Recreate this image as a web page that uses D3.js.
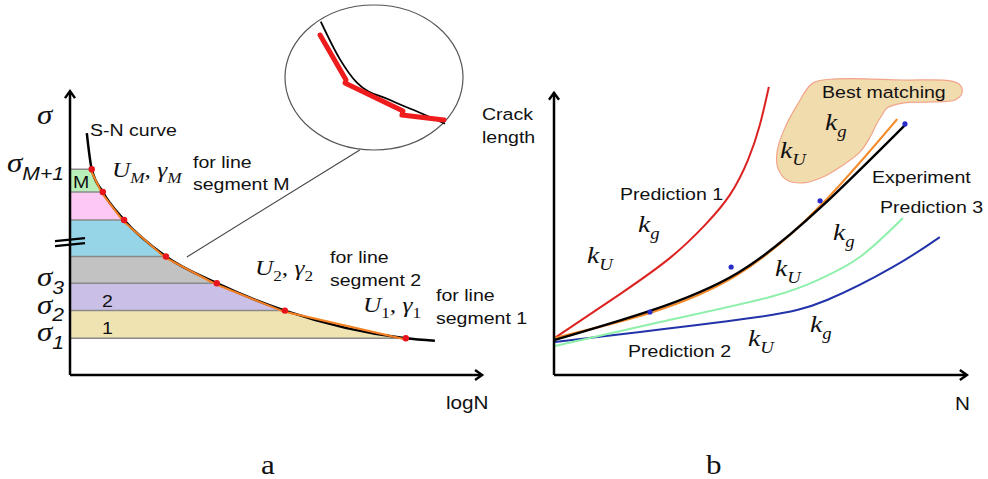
<!DOCTYPE html>
<meta charset="utf-8">
<style>
  body { margin: 0; background: #fff; }
  svg { display: block; }
  .lbl { font-family: "Liberation Sans", Arial, sans-serif; fill: #111; }
  .math { font-family: "Liberation Serif", "Times New Roman", serif; font-style: italic; fill: #111; }
  .cap { font-family: "Liberation Serif", "Times New Roman", serif; fill: #111; }
</style>
<body>
<script src="https://d3js.org/d3.v7.min.js"></script>
<script>
// ---------- panel a : S-N curve (plot units 0..100 on both axes)
var snCurve   = [[4.1,84.9],[5.3,72.2],[8.0,64.2],[13.2,54.4],[23.4,41.6],[35.8,32.2],[52.4,22.6],[81.9,12.9],[89.0,12.0]];
// ends of the line segments (red dots), top first
var segPoints = [[5.3,72.2],[8.0,64.2],[13.2,54.4],[23.4,41.6],[35.8,32.2],[52.4,22.6],[81.9,12.9]];
var bandColors = ["#b9f0b9","#fbc9f3","#96d5e7","#c2c2c2","#cac0e7","#f0e3b2"];
var bandNames  = ["M","","","","2","1"];
var sigmaSubs  = ["M+1","3","2","1"];
var sigmaIdx   = [0,4,5,6];

// magnifier inset (inset units 0..100)
var insetCurve = [[20.1,88.5],[30.9,62.5],[40.4,46.4],[59,34.5],[77.5,24.8],[89.9,18.1]];
var insetPoly  = [[19.7,79.3],[34.3,48.3],[33.7,46.2],[66.3,26.9],[65.7,24.1],[89.3,20.7]];

// ---------- panel b : crack length vs N (plot units 0..100)
var predRed    = [[0.2,13.0],[16.1,28.4],[28.3,41.1],[36.8,52.6],[42.9,63.2],[47.3,75.4],[50.2,87.7],[52.4,101.1]];
var experiment = [[0.2,12.3],[23.4,22.5],[44.9,35.9],[64.9,58.6],[85.6,87.7]];
var bestFit    = [[0.2,13.0],[23.4,21.8],[44.9,35.3],[64.9,59.3],[83.7,89.8]];
var predGreen  = [[0.2,10.2],[25.9,18.6],[52.7,27.4],[64.9,33.7],[74.6,41.4],[85.1,55.1]];
var predBlue   = [[0.2,11.6],[21.0,15.1],[50.2,20.4],[66.6,26.3],[82.7,37.9],[94.1,48.4]];
var expDots    = [[23.4,22.1],[43.2,37.9],[64.9,61.1],[85.6,88.1]];
var blob = [[63.2,102.5],[69.0,103.9],[85.1,103.5],[96.6,103.2],[99.0,101.8],[99.5,98.9],[97.8,96.5],
            [91.7,95.8],[85.1,95.4],[81.2,93.7],[80.0,91.2],[78.8,88.4],[77.1,83.5],[74.6,78.2],
            [70.5,73.7],[65.6,69.5],[60.7,67.4],[56.8,68.4],[54.6,72.6],[54.4,78.2],[55.9,85.3],[59.3,94.7]];

var width = 988, height = 479;
var SX = 1.15; // the figure is slightly stretched horizontally

var svg = d3.select("body").append("svg")
    .attr("width", width).attr("height", height);

// text helper: parts are [string, isSub, extraClass]
function label(g, x, y, cls, size, parts) {
  var t = g.append("text").attr("class", cls)
      .attr("transform", "translate(" + x + "," + y + ") scale(" + SX + ",1)")
      .style("font-size", size + "px");
  var shifted = false;
  parts.forEach(function(p) {
    var s = t.append("tspan").text(p[0]);
    if (p[1] && !shifted) { s.attr("dy", size * 0.28); shifted = true; }
    else if (!p[1] && shifted) { s.attr("dy", -size * 0.28); shifted = false; }
    if (p[1]) s.style("font-size", (size * 0.68) + "px");
    if (p[2] === "sans") s.style("font-family", "'Liberation Sans', Arial, sans-serif");
    if (p[2] === "up") s.style("font-style", "normal");
  });
  return t;
}

function arrowAxes(parent, x0, y0, yTop, xEnd) {
  var g = parent.append("g").attr("class", "axes");
  var ln = d3.line();
  g.append("path").attr("d", ln([[x0, y0], [x0, yTop]]));
  g.append("path").attr("d", ln([[x0, y0], [xEnd, y0]]));
  g.append("path").attr("d", ln([[x0 - 5, yTop + 7], [x0, yTop], [x0 + 5, yTop + 7]]));
  g.append("path").attr("d", ln([[xEnd - 7, y0 - 5], [xEnd, y0], [xEnd - 7, y0 + 5]]));
  g.selectAll("path").attr("fill", "none").attr("stroke", "#000")
    .attr("stroke-width", 2.5).attr("stroke-linejoin", "miter");
}

// ================= panel a =================
var ax = d3.scaleLinear().domain([0, 100]).range([70, 480]);
var ay = d3.scaleLinear().domain([0, 100]).range([375, 90]);
var ga = svg.append("g");

// coloured bands between segment ends
var bands = d3.range(segPoints.length - 1).map(function(i) {
  return [[0, segPoints[i][1]], segPoints[i], segPoints[i + 1], [0, segPoints[i + 1][1]]];
});
ga.selectAll(".band").data(bands).enter().append("path")
    .attr("class", "band")
    .attr("d", function(d) { return d3.line().x(function(p) { return ax(p[0]); }).y(function(p) { return ay(p[1]); })(d) + "Z"; })
    .attr("fill", function(d, i) { return bandColors[i]; });

ga.selectAll(".hline").data(segPoints).enter().append("line")
    .attr("x1", ax(0)).attr("x2", function(d) { return ax(d[0]); })
    .attr("y1", function(d) { return ay(d[1]); }).attr("y2", function(d) { return ay(d[1]); })
    .attr("stroke", "#8a8a8a").attr("stroke-width", 1.5);

bands.forEach(function(d, i) {
  if (!bandNames[i]) return;
  var bx = i === 0 ? ax(0) + 3 : ax(0) + 32;
  label(ga, bx, ay(d[3][1]) - 4, "lbl", 17, [[bandNames[i]]]);
});

// S-N curve and its piecewise approximation
var lineA = d3.line().x(function(d) { return ax(d[0]); }).y(function(d) { return ay(d[1]); });
ga.append("path").attr("d", lineA.curve(d3.curveMonotoneX)(snCurve))
    .attr("fill", "none").attr("stroke", "#000").attr("stroke-width", 2.5);
ga.append("path").attr("d", lineA.curve(d3.curveLinear)(segPoints))
    .attr("transform", "translate(-1,1)")
    .attr("fill", "none").attr("stroke", "#f57f22").attr("stroke-width", 2);
ga.selectAll(".dot").data(segPoints).enter().append("circle")
    .attr("cx", function(d) { return ax(d[0]); }).attr("cy", function(d) { return ay(d[1]); })
    .attr("r", 3.2).attr("fill", "#e8141c");

arrowAxes(ga, ax(0), ay(0), ay(99.6), ax(100.5));

// axis break mark
var yb = ay(47.5);
[0, 5].forEach(function(o) {
  ga.append("line").attr("x1", ax(0) - 15).attr("y1", yb + o + 1.5)
    .attr("x2", ax(0) + 15).attr("y2", yb + o - 1.5)
    .attr("stroke", "#000").attr("stroke-width", 2.2);
});

// sigma labels
label(ga, 37, ay(88), "math", 27, [["σ"]]);
sigmaIdx.forEach(function(idx, k) {
  var x = k === 0 ? 7 : 37;
  label(ga, x, ay(segPoints[idx][1]) + 3, "math", 27,
        [["σ"], [sigmaSubs[k], true, "sans"]]);
});

// magnifier
var ix = d3.scaleLinear().domain([0, 100]).range([285, 463]);
var iy = d3.scaleLinear().domain([0, 100]).range([150, 5]);
ga.append("line")
    .attr("x1", ix(42)).attr("y1", iy(0)).attr("x2", ax(28.5)).attr("y2", ay(41.4))
    .attr("stroke", "#444").attr("stroke-width", 1.1);
ga.append("ellipse").attr("cx", ix(50)).attr("cy", iy(50))
    .attr("rx", (ix(100) - ix(0)) / 2).attr("ry", (iy(0) - iy(100)) / 2)
    .attr("fill", "#fff").attr("stroke", "#555").attr("stroke-width", 1.2);
var lineI = d3.line().x(function(d) { return ix(d[0]); }).y(function(d) { return iy(d[1]); });
ga.append("path").attr("d", lineI.curve(d3.curveMonotoneX)(insetCurve))
    .attr("fill", "none").attr("stroke", "#000").attr("stroke-width", 1.8);
ga.append("path").attr("d", lineI.curve(d3.curveLinear)(insetPoly))
    .attr("fill", "none").attr("stroke", "#ee1c1c").attr("stroke-width", 5)
    .attr("stroke-linecap", "round").attr("stroke-linejoin", "round");

// annotations
label(ga, 90, 136, "lbl", 17, [["S-N curve"]]);
label(ga, 112, 177, "math", 22, [["U"], ["M", true], [", "], ["γ"], ["M", true]]);
label(ga, 193, 168, "lbl", 17, [["for line"]]);
label(ga, 193, 190, "lbl", 17, [["segment M"]]);
label(ga, 255, 275, "math", 22, [["U"], ["2", true, "up"], [", "], ["γ"], ["2", true, "up"]]);
label(ga, 330, 263, "lbl", 17, [["for line"]]);
label(ga, 330, 286, "lbl", 17, [["segment 2"]]);
label(ga, 363, 312, "math", 22, [["U"], ["1", true, "up"], [", "], ["γ"], ["1", true, "up"]]);
label(ga, 436, 301, "lbl", 17, [["for line"]]);
label(ga, 436, 324, "lbl", 17, [["segment 1"]]);
label(ga, 446, 409, "lbl", 18, [["logN"]]);
label(ga, 261, 474, "cap", 27, [["a"]]);

// ================= panel b =================
var bx = d3.scaleLinear().domain([0, 100]).range([554, 964]);
var by = d3.scaleLinear().domain([0, 100]).range([375, 90]);
var gb = svg.append("g");
var lineB = d3.line().x(function(d) { return bx(d[0]); }).y(function(d) { return by(d[1]); })
    .curve(d3.curveNatural);

gb.append("path").attr("d", d3.line().x(function(d) { return bx(d[0]); }).y(function(d) { return by(d[1]); })
      .curve(d3.curveCatmullRomClosed)(blob))
    .attr("fill", "#f1dcae").attr("stroke", "#f2a48a").attr("stroke-width", 1.2);

var series = [
  {data: predBlue,   color: "#2233aa", w: 2},
  {data: predGreen,  color: "#8ef0aa", w: 2},
  {data: predRed,    color: "#dd2222", w: 2},
  {data: bestFit,    color: "#f58a2a", w: 2.2},
  {data: experiment, color: "#000",    w: 2.4}
];
gb.selectAll(".curve").data(series).enter().append("path")
    .attr("d", function(d) { return lineB(d.data); })
    .attr("fill", "none").attr("stroke", function(d) { return d.color; })
    .attr("stroke-width", function(d) { return d.w; });
gb.selectAll(".edot").data(expDots).enter().append("circle")
    .attr("cx", function(d) { return bx(d[0]); }).attr("cy", function(d) { return by(d[1]); })
    .attr("r", 2.6).attr("fill", "#2a2ac8");

arrowAxes(gb, bx(0), by(0), by(99), bx(100.7));

label(gb, 482, 120, "lbl", 17, [["Crack"]]);
label(gb, 482, 143, "lbl", 17, [["length"]]);
label(gb, 955, 410, "lbl", 18, [["N"]]);
label(gb, 822, 98, "lbl", 17, [["Best matching"]]);
label(gb, 620, 200, "lbl", 17, [["Prediction 1"]]);
label(gb, 628, 357, "lbl", 17, [["Prediction 2"]]);
label(gb, 872, 183, "lbl", 17, [["Experiment"]]);
label(gb, 880, 213, "lbl", 17, [["Prediction 3"]]);

var kLabels = [
  [825, 130, "g"], [780, 158, "U"], [638, 232, "g"], [587, 263, "U"],
  [833, 240, "g"], [775, 276, "U"], [748, 346, "U"], [810, 332, "g"]
];
kLabels.forEach(function(k) {
  label(gb, k[0], k[1], "math", 24, [["k"], [k[2], true]]);
});
label(gb, 706, 474, "cap", 27, [["b"]]);
</script>
</body>
